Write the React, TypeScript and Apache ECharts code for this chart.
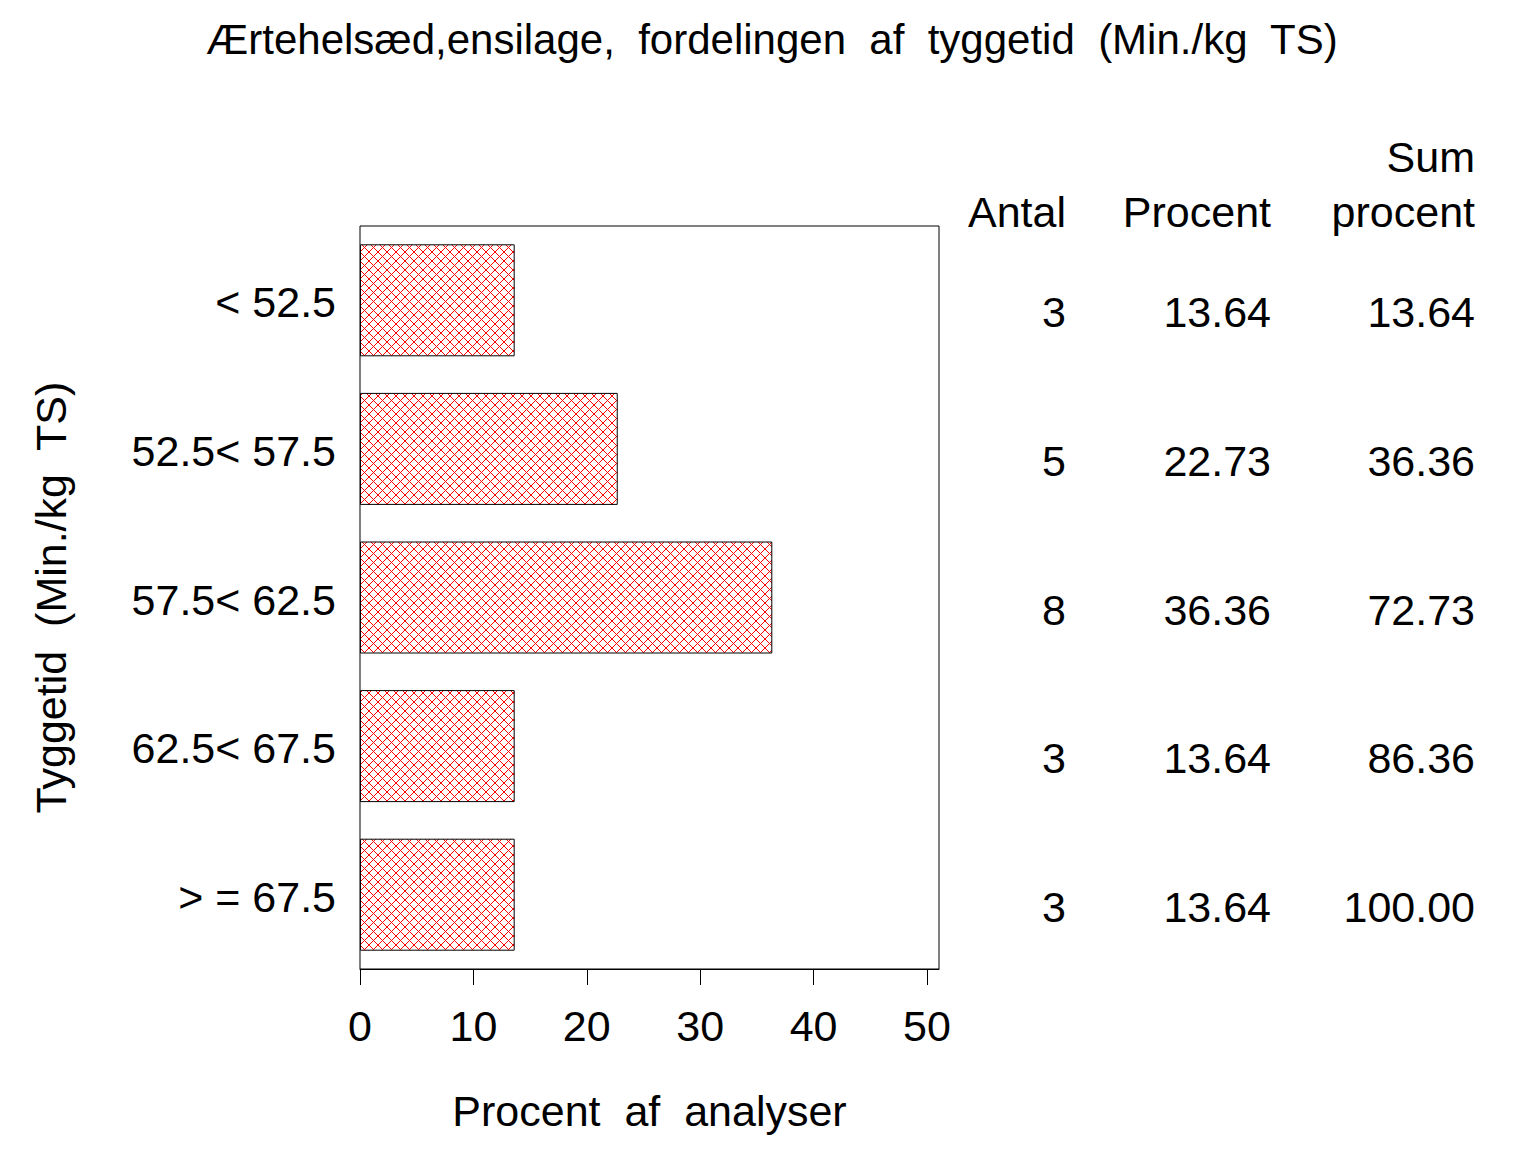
import React, { useEffect, useRef } from "react";
import * as echarts from "echarts";

const categories = ["< 52.5", "52.5< 57.5", "57.5< 62.5", "62.5< 67.5", "> = 67.5"];
const percentValues = [13.64, 22.73, 36.36, 13.64, 13.64];
const antal = [3, 5, 8, 3, 3];
const sumPercent = [13.64, 36.36, 72.73, 86.36, 100.0];
const xTicks = [0, 10, 20, 30, 40, 50];

const TITLE = "Ærtehelsæd,ensilage,  fordelingen  af  tyggetid  (Min./kg  TS)";
const Y_NAME = "Tyggetid  (Min./kg  TS)";
const X_NAME = "Procent  af  analyser";

const FONT = "'Liberation Sans', Arial, Helvetica, sans-serif";
const FS = 43;

function makeHatch(): HTMLCanvasElement {
  const c = document.createElement("canvas");
  const s = 9;
  c.width = s;
  c.height = s;
  const ctx = c.getContext("2d")!;
  ctx.fillStyle = "#ffffff";
  ctx.fillRect(0, 0, s, s);
  ctx.strokeStyle = "#ff0000";
  ctx.lineWidth = 1;
  ctx.beginPath();
  ctx.moveTo(0, 0);
  ctx.lineTo(s, s);
  ctx.moveTo(s, 0);
  ctx.lineTo(0, s);
  ctx.stroke();
  return c;
}

export default function App() {
  const ref = useRef<HTMLDivElement>(null);
  useEffect(() => {
    if (!ref.current) return;
    const chart = echarts.init(ref.current, null, { renderer: "svg" });
    const hatch = makeHatch();
    const tableAxis = (offset: number, values: string[]) => ({
      type: "category",
      data: categories,
      inverse: true,
      position: "right",
      offset,
      gridIndex: 0,
      axisLine: { show: false },
      axisTick: { show: false },
      splitLine: { show: false },
      axisLabel: {
        align: "right",
        verticalAlign: "top",
        lineHeight: 24,
        margin: 0,
        fontSize: FS,
        fontFamily: FONT,
        color: "#000",
        formatter: (_v: string, i: number) => values[i],
      },
    });
    chart.setOption({
      animation: false,
      backgroundColor: "#fff",
      textStyle: { fontFamily: FONT, color: "#000" },
      title: {
        text: TITLE,
        left: 767,
        top: 13,
        textAlign: "center",
        textStyle: { fontSize: 42, fontWeight: "normal", fontFamily: FONT, color: "#000" },
      },
      grid: {
        left: 360,
        top: 226,
        right: 1536 - 939,
        bottom: 1152 - 969,
        show: true,
        borderColor: "#000",
        borderWidth: 1,
        backgroundColor: "transparent",
        containLabel: false,
      },
      xAxis: {
        type: "value",
        min: 0,
        max: 51.06,
        name: X_NAME,
        nameLocation: "middle",
        nameGap: 120,
        nameTextStyle: { fontSize: FS, fontFamily: FONT, color: "#000" },
        axisLine: { show: true, lineStyle: { color: "#000", width: 1 } },
        axisTick: { show: true, length: 16, lineStyle: { color: "#000" }, customValues: xTicks },
        axisLabel: {
          fontSize: FS,
          fontFamily: FONT,
          color: "#000",
          margin: 35,
          customValues: xTicks,
        },
        splitLine: { show: false },
      },
      yAxis: [
        {
          type: "category",
          data: categories,
          inverse: true,
          name: Y_NAME,
          nameLocation: "middle",
          nameRotate: 90,
          nameGap: 288,
          nameTextStyle: { fontSize: FS, fontFamily: FONT, color: "#000" },
          axisLine: { show: false },
          axisTick: { show: false },
          splitLine: { show: false },
          axisLabel: {
            fontSize: FS,
            fontFamily: FONT,
            color: "#000",
            margin: 24,
            verticalAlign: "top",
            lineHeight: 4,
          },
        },
        tableAxis(127, antal.map((v) => String(v))),
        tableAxis(332, percentValues.map((v) => v.toFixed(2))),
        tableAxis(536, sumPercent.map((v) => v.toFixed(2))),
      ],
      graphic: [
        {
          type: "text",
          x: 1066,
          y: 212,
          style: { text: "Antal", fontSize: FS, fontFamily: FONT, fill: "#000", align: "right", verticalAlign: "middle" },
        },
        {
          type: "text",
          x: 1271,
          y: 212,
          style: { text: "Procent", fontSize: FS, fontFamily: FONT, fill: "#000", align: "right", verticalAlign: "middle" },
        },
        {
          type: "text",
          x: 1475,
          y: 157,
          style: { text: "Sum", fontSize: FS, fontFamily: FONT, fill: "#000", align: "right", verticalAlign: "middle" },
        },
        {
          type: "text",
          x: 1475,
          y: 212,
          style: { text: "procent", fontSize: FS, fontFamily: FONT, fill: "#000", align: "right", verticalAlign: "middle" },
        },
      ],
      series: [
        {
          type: "bar",
          xAxisIndex: 0,
          yAxisIndex: 0,
          data: percentValues,
          barWidth: 112,
          itemStyle: {
            color: { image: hatch, repeat: "repeat" },
            borderColor: "#000",
            borderWidth: 1,
          },
        },
      ],
    });
    return () => chart.dispose();
  }, []);
  return (
    <div
      ref={ref}
      style={{ position: "fixed", left: 0, top: 0, width: 1536, height: 1152, background: "#fff" }}
    />
  );
}
